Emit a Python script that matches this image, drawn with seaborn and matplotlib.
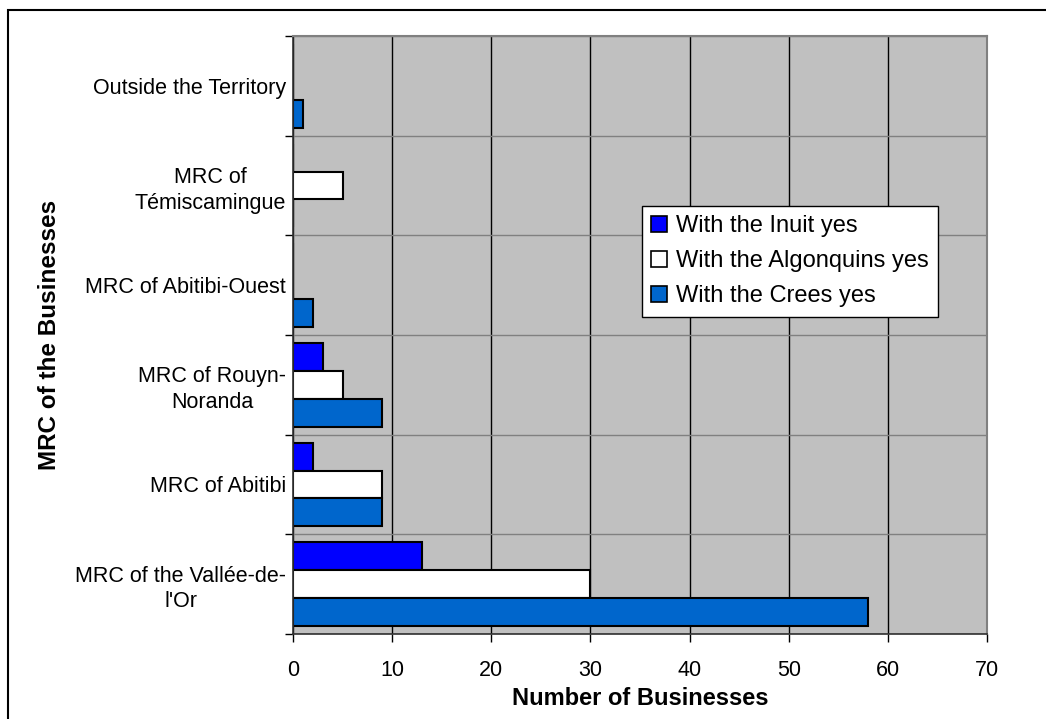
import numpy as np
import pandas as pd
import matplotlib
matplotlib.use("Agg")
import matplotlib.pyplot as plt
import seaborn as sns

# Businesses in each MRC that deal with each Indigenous nation
regions = [
    "Outside the Territory",
    "MRC of\nTémiscamingue",
    "MRC of Abitibi-Ouest",
    "MRC of Rouyn-\nNoranda",
    "MRC of Abitibi",
    "MRC of the Vallée-de-\nl'Or",
]
series = ["With the Inuit yes", "With the Algonquins yes", "With the Crees yes"]
inuit = [0, 0, 0, 3, 2, 13]
algonquins = [0, 5, 0, 5, 9, 30]
crees = [1, 0, 2, 9, 9, 58]
x_ticks = [0, 10, 20, 30, 40, 50, 60, 70]

colors = {series[0]: "#0000FF", series[1]: "#FFFFFF", series[2]: "#0066CC"}

df = pd.DataFrame({
    "region": regions * 3,
    "series": [s for s in series for _ in regions],
    "count": inuit + algonquins + crees,
})

sns.set_theme(style="white", rc={
    "text.color": "black", "axes.labelcolor": "black",
    "xtick.color": "black", "ytick.color": "black",
})
plt.rcParams["font.family"] = ["Liberation Sans", "DejaVu Sans"]

fig = plt.figure(figsize=(10.46, 7.19), dpi=100)
ax = fig.add_axes([293 / 1046, 85 / 719, 694 / 1046, 598 / 719])

sns.barplot(
    data=df, y="region", x="count", hue="series",
    order=regions, hue_order=series, palette=colors, saturation=1,
    orient="h", width=0.84, edgecolor="black", linewidth=1.5,
    errorbar=None, ax=ax,
)

ax.set_facecolor("#C0C0C0")
ax.set_axisbelow(True)

# x axis
ax.set_xlim(0, 70)
ax.set_xticks(x_ticks)
ax.tick_params(axis="x", which="major", direction="out", length=6, width=1,
               color="black", pad=13, labelsize=15.5, bottom=True)
ax.xaxis.grid(True, color="black", linewidth=1)

# y axis: ticks and grid on category boundaries, labels at centres
ax.set_ylim(len(regions) - 0.5, -0.5)
ax.set_yticks(np.arange(-0.5, len(regions)), labels=[""] * (len(regions) + 1))
ax.set_yticks(np.arange(len(regions)), minor=True)
ax.set_yticklabels(regions, minor=True, ha="right", multialignment="center",
                   fontsize=15.5, linespacing=1.3)
ax.tick_params(axis="y", which="major", direction="out", length=6, width=1,
               color="black", left=True)
ax.tick_params(axis="y", which="minor", length=0, pad=5)
ax.yaxis.grid(True, which="major", color="#808080", linewidth=1)

for side in ("top", "right"):
    ax.spines[side].set_color("#808080")
    ax.spines[side].set_linewidth(1.5)
for side in ("left", "bottom"):
    ax.spines[side].set_color("#303030")
    ax.spines[side].set_linewidth(1.2)

ax.set_xlabel("Number of Businesses", fontsize=17, fontweight="bold")
ax.set_ylabel("MRC of the Businesses", fontsize=17.5, fontweight="bold")
ax.xaxis.set_label_coords(0.5, -0.088)
ax.yaxis.set_label_coords(-0.334, 0.5)

handles, labels = ax.get_legend_handles_labels()
leg = ax.legend(
    handles, labels, loc="upper left",
    bbox_to_anchor=((642 - 293) / 694, (634 - 206) / 598),
    fontsize=17, frameon=True, fancybox=False, shadow=False,
    handlelength=0.65, handleheight=0.65, handletextpad=0.4,
    labelspacing=0.55, borderpad=0.4, borderaxespad=0,
)
leg.get_frame().set_edgecolor("black")
leg.get_frame().set_linewidth(1)
leg.get_frame().set_facecolor("white")
leg.get_frame().set_alpha(1)
for h in leg.legend_handles:
    h.set_edgecolor("black")
    h.set_linewidth(1.2)

# outer chart frame
fig.patches.append(plt.Rectangle(
    (8 / 1046, -0.1), 1.2, 1 - 10 / 719 + 0.1,
    transform=fig.transFigure, fill=False, edgecolor="black", linewidth=1.5,
))

fig.savefig("out.png", dpi=100)
